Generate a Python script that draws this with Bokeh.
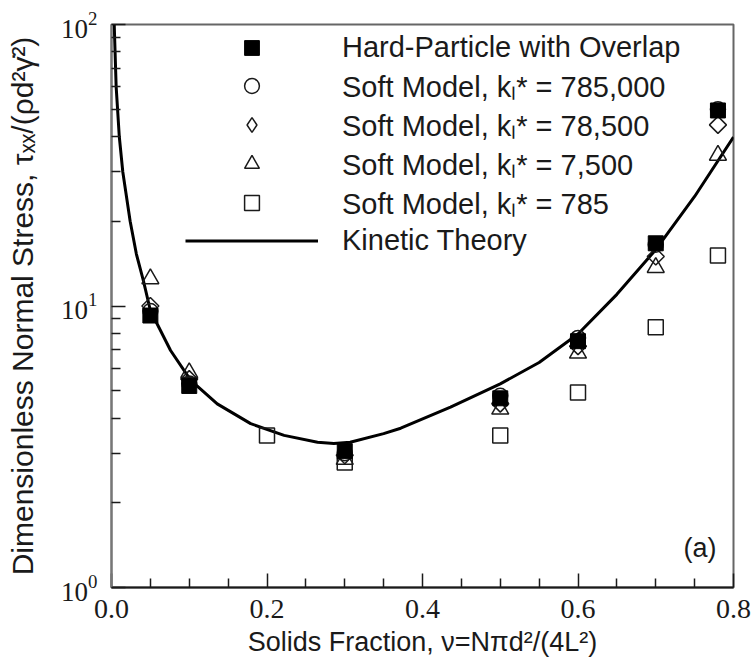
import numpy as np
from bokeh.plotting import figure
from bokeh.models import FixedTicker, Legend, LegendItem, Label, NumeralTickFormatter
from bokeh.embed import file_html
from bokeh.resources import INLINE

# ---- data ----
phi = [0.05, 0.1, 0.3, 0.5, 0.6, 0.7, 0.78]
hard_overlap = [9.25, 5.2, 3.05, 4.7, 7.5, 16.7, 49.5]
soft_785000 = [9.6, 5.3, 3.0, 4.8, 7.7, 16.5, 50.0]
soft_78500 = [10.0, 5.5, 2.95, 4.5, 7.2, 15.0, 44.0]
soft_7500 = [12.5, 5.8, 2.85, 4.3, 6.8, 13.7, 34.3]
phi_785 = [0.2, 0.3, 0.5, 0.6, 0.7, 0.78]
soft_785 = [3.47, 2.78, 3.47, 4.93, 8.4, 15.1]

kt_phi = [0.0035, 0.006, 0.01, 0.0145, 0.024, 0.032, 0.041, 0.05, 0.076,
          0.102, 0.136, 0.179, 0.222, 0.265, 0.286, 0.307, 0.35, 0.372,
          0.436, 0.5, 0.55, 0.6, 0.65, 0.7, 0.75, 0.8]
kt_stress = [100.0, 60.0, 40.0, 30.0, 20.0, 15.3, 12.3, 9.64, 6.95,
             5.44, 4.49, 3.82, 3.47, 3.28, 3.25, 3.28, 3.52, 3.68,
             4.37, 5.29, 6.3, 7.95, 11.0, 15.85, 24.5, 39.8]

x_ticks = [0.0, 0.2, 0.4, 0.6, 0.8]
x_minor = [0.05, 0.1, 0.15, 0.25, 0.3, 0.35, 0.45, 0.5, 0.55, 0.65, 0.7, 0.75]
y_ticks = [1, 10, 100]
y_minor = [2, 3, 4, 5, 6, 7, 8, 9, 20, 30, 40, 50, 60, 70, 80, 90]

labels = ["Hard-Particle with Overlap",
          "Soft Model, k\u2097* = 785,000",
          "Soft Model, k\u2097* = 78,500",
          "Soft Model, k\u2097* = 7,500",
          "Soft Model, k\u2097* = 785",
          "Kinetic Theory"]

SANS = "Liberation Sans"
SERIF = "Liberation Serif"
INK = "#1a1a1a"

p = figure(width=754, height=663, x_range=(0.0, 0.8), y_range=(1, 100),
           y_axis_type="log", output_backend="svg", toolbar_location=None,
           min_border_left=111, min_border_right=21, min_border_top=24,
           min_border_bottom=76)
p.xgrid.visible = False
p.ygrid.visible = False
p.background_fill_color = "white"
p.border_fill_color = "white"
p.outline_line_color = "#666666"
p.outline_line_width = 2

# axes
p.xaxis.ticker = FixedTicker(ticks=x_ticks, minor_ticks=x_minor)
p.yaxis.ticker = FixedTicker(ticks=y_ticks, minor_ticks=y_minor)
p.xaxis.formatter = NumeralTickFormatter(format="0.0")
for ax in (p.xaxis, p.yaxis):
    ax.major_tick_in = 14
    ax.major_tick_out = 0
    ax.minor_tick_in = 9
    ax.minor_tick_out = 0
    ax.major_tick_line_color = INK
    ax.minor_tick_line_color = INK
    ax.major_tick_line_width = 1.5
    ax.minor_tick_line_width = 1.5
    ax.major_label_text_font = SERIF
    ax.major_label_text_font_size = "28px"
    ax.major_label_text_color = INK
    ax.axis_label_text_font = SANS
    ax.axis_label_text_font_style = "normal"
    ax.axis_label_text_color = INK
p.yaxis.major_label_text_font_size = "27px"
p.xaxis.axis_line_color = INK
p.xaxis.axis_line_width = 2
p.yaxis.axis_line_color = "#777777"
p.yaxis.axis_line_width = 2
p.xaxis.major_label_standoff = 12
p.yaxis.major_label_standoff = 14
p.xaxis.axis_label = "Solids Fraction, \u03bd=N\u03c0d\u00b2/(4L\u00b2)"
p.yaxis.axis_label = "Dimensionless Normal Stress, \u03c4\u2093\u2093/(\u03c1d\u00b2\u03b3\u0307\u00b2)"
p.xaxis.axis_label_text_font_size = "27px"
p.yaxis.axis_label_text_font_size = "30px"
p.xaxis.axis_label_standoff = 6
p.yaxis.axis_label_standoff = 19

# data
r_kt = p.line(kt_phi, kt_stress, line_color="black", line_width=3)
r_785 = p.scatter(phi_785, soft_785, marker="square", size=15, fill_alpha=0,
                  line_color=INK, line_width=1.5)
r_7500 = p.scatter(phi, soft_7500, marker="triangle", size=17, fill_alpha=0,
                   line_color=INK, line_width=1.5)
r_78500 = p.scatter(phi, soft_78500, marker="square", size=12, angle=np.pi / 4,
                    fill_alpha=0, line_color=INK, line_width=1.5)
r_785000 = p.scatter(phi, soft_785000, marker="circle", size=15, fill_alpha=0,
                     line_color=INK, line_width=1.5)
r_hard = p.scatter(phi, hard_overlap, marker="square", size=15,
                   fill_color="black", line_color="black", line_width=1)
# legend key for the diamond series (legend keys are drawn unrotated);
# it holds no drawable point, it only supplies the legend symbol
r_78500_key = p.scatter([float("nan")], [float("nan")], marker="diamond",
                        fill_alpha=0, line_color=INK, line_width=1.5)

legend = Legend(items=[
    LegendItem(label=labels[0], renderers=[r_hard]),
    LegendItem(label=labels[1], renderers=[r_785000]),
    LegendItem(label=labels[2], renderers=[r_78500_key]),
    LegendItem(label=labels[3], renderers=[r_7500]),
    LegendItem(label=labels[4], renderers=[r_785]),
    LegendItem(label=labels[5], renderers=[r_kt]),
], location=(74, 328), border_line_alpha=0, background_fill_alpha=0,
   padding=0, margin=0, spacing=0, glyph_width=133, glyph_height=37,
   label_height=37, label_standoff=24, label_text_font=SANS,
   label_text_font_size="29px", label_text_color=INK)
p.add_layout(legend, "center")

p.add_layout(Label(x=0.757, y=1.38, text="(a)", text_font=SANS,
                   text_font_size="27px", text_color=INK,
                   text_align="center", text_baseline="middle"))

open("out.html", "w").write(file_html(p, INLINE))
